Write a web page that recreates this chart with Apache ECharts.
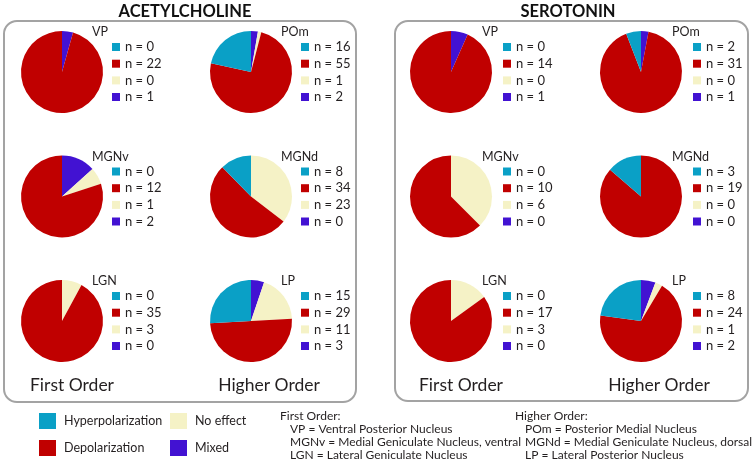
<!DOCTYPE html>
<html>
<head>
<meta charset="utf-8">
<script src="https://cdn.jsdelivr.net/npm/echarts@6/dist/echarts.min.js"></script>
<style>
html,body{margin:0;padding:0;background:#fff;}
#chart{width:754px;height:468px;}
</style>
</head>
<body>
<div id="chart"></div>
<script>
// ---- data ----
var regions = ['VP', 'POm', 'MGNv', 'MGNd', 'LGN', 'LP'];
var categories = ['Hyperpolarization', 'Depolarization', 'No effect', 'Mixed'];
var achHyper = [0, 16, 0, 8, 0, 15];
var achDepol = [22, 55, 12, 34, 35, 29];
var achNoEffect = [0, 1, 1, 23, 3, 11];
var achMixed = [1, 2, 2, 0, 0, 3];
var serHyper = [0, 2, 0, 3, 0, 8];
var serDepol = [14, 31, 10, 19, 17, 24];
var serNoEffect = [0, 0, 6, 0, 3, 1];
var serMixed = [1, 1, 0, 0, 0, 2];
var panelTitles = ['ACETYLCHOLINE', 'SEROTONIN'];
var orderLabels = ['First Order', 'Higher Order'];
var firstOrderNotes = ['First Order:', 'VP = Ventral Posterior Nucleus', 'MGNv = Medial Geniculate Nucleus, ventral', 'LGN = Lateral Geniculate Nucleus'];
var higherOrderNotes = ['Higher Order:', 'POm = Posterior Medial Nucleus', 'MGNd = Medial Geniculate Nucleus, dorsal', 'LP = Lateral Posterior Nucleus'];

// ---- styling / layout ----
var colors = {
  'Hyperpolarization': '#0aa0c6',
  'Depolarization': '#c00000',
  'No effect': '#f5f2c6',
  'Mixed': '#4212d2'
};
var FONT = 'Lato';
var TXT = '#231f20';

var panels = [
  {x: 4, y: 21, w: 352, h: 381, title: 185, colX: [62, 251], legDx: 50, txtDx: 63, lblDx: 30},
  {x: 395, y: 21, w: 353, h: 380, title: 568, colX: [451, 641], legDx: 52, txtDx: 65, lblDx: 31}
];
var rowY = [72, 196.5, 321];
var sets = [
  {hyper: achHyper, depol: achDepol, noe: achNoEffect, mixed: achMixed},
  {hyper: serHyper, depol: serDepol, noe: serNoEffect, mixed: serMixed}
];

var series = [];
var graphic = [];

panels.forEach(function (p, pi) {
  graphic.push({
    type: 'rect', shape: {x: p.x, y: p.y, width: p.w, height: p.h, r: 13},
    style: {fill: 'none', stroke: '#a3a3a3', lineWidth: 2}, z: 1
  });
  graphic.push({
    type: 'text', x: p.title, y: 12,
    style: {text: panelTitles[pi], font: 'bold 16.5px ' + FONT, fill: '#111', align: 'center', verticalAlign: 'middle'}
  });
  graphic.push({
    type: 'text', x: (p.colX[0] + 10), y: 385,
    style: {text: orderLabels[0], font: '17.5px ' + FONT, fill: TXT, align: 'center', verticalAlign: 'middle'}
  });
  graphic.push({
    type: 'text', x: (p.colX[1] + 18), y: 385,
    style: {text: orderLabels[1], font: '17.5px ' + FONT, fill: TXT, align: 'center', verticalAlign: 'middle'}
  });
  var s = sets[pi];
  regions.forEach(function (reg, ri) {
    var col = ri % 2, row = Math.floor(ri / 2);
    var cx = p.colX[col], cy = rowY[row];
    var vals = {
      'Hyperpolarization': s.hyper[ri],
      'Depolarization': s.depol[ri],
      'No effect': s.noe[ri],
      'Mixed': s.mixed[ri]
    };
    // clockwise from 12 o'clock: Mixed, No effect, Depolarization, Hyperpolarization
    var order = ['Mixed', 'No effect', 'Depolarization', 'Hyperpolarization'];
    series.push({
      type: 'pie',
      center: [cx, cy],
      radius: 41,
      startAngle: 90,
      clockwise: true,
      silent: true,
      animation: false,
      label: {show: false},
      labelLine: {show: false},
      itemStyle: {borderWidth: 0},
      data: order.map(function (k) {
        return {name: k, value: vals[k], itemStyle: {color: colors[k]}};
      })
    });
    graphic.push({
      type: 'text', x: cx + p.lblDx, y: cy - 40,
      style: {text: reg, font: '12.5px ' + FONT, fill: TXT, verticalAlign: 'middle'}
    });
    var offs = [-25, -8.3, 8.4, 25];
    categories.forEach(function (k, ki) {
      var yy = cy + offs[ki];
      graphic.push({
        type: 'rect', shape: {x: cx + p.legDx, y: yy - 4, width: 8, height: 8},
        style: {fill: colors[k]}
      });
      graphic.push({
        type: 'text', x: cx + p.txtDx, y: yy,
        style: {text: 'n = ' + vals[k], font: '13px ' + FONT, fill: TXT, verticalAlign: 'middle'}
      });
    });
  });
});

// bottom legend
var legendPos = [[39, 413], [39, 440], [170, 413], [170, 440]];
categories.forEach(function (k, ki) {
  var lp = legendPos[ki];
  graphic.push({type: 'rect', shape: {x: lp[0], y: lp[1], width: 17, height: 16}, style: {fill: colors[k]}});
  graphic.push({
    type: 'text', x: lp[0] + 25, y: lp[1] + 8,
    style: {text: k, font: '12.5px ' + FONT, fill: TXT, verticalAlign: 'middle'}
  });
});

// notes
[[firstOrderNotes, 280], [higherOrderNotes, 515]].forEach(function (nt) {
  nt[0].forEach(function (line, li) {
    graphic.push({
      type: 'text', x: nt[1] + (li === 0 ? 0 : 10), y: 416 + li * 13,
      style: {text: line, font: '12px ' + FONT, fill: TXT, verticalAlign: 'middle'}
    });
  });
});

var chart = echarts.init(document.getElementById('chart'), null, {renderer: 'canvas'});
chart.setOption({
  animation: false,
  backgroundColor: '#ffffff',
  series: series,
  graphic: graphic
});
</script>
</body>
</html>
